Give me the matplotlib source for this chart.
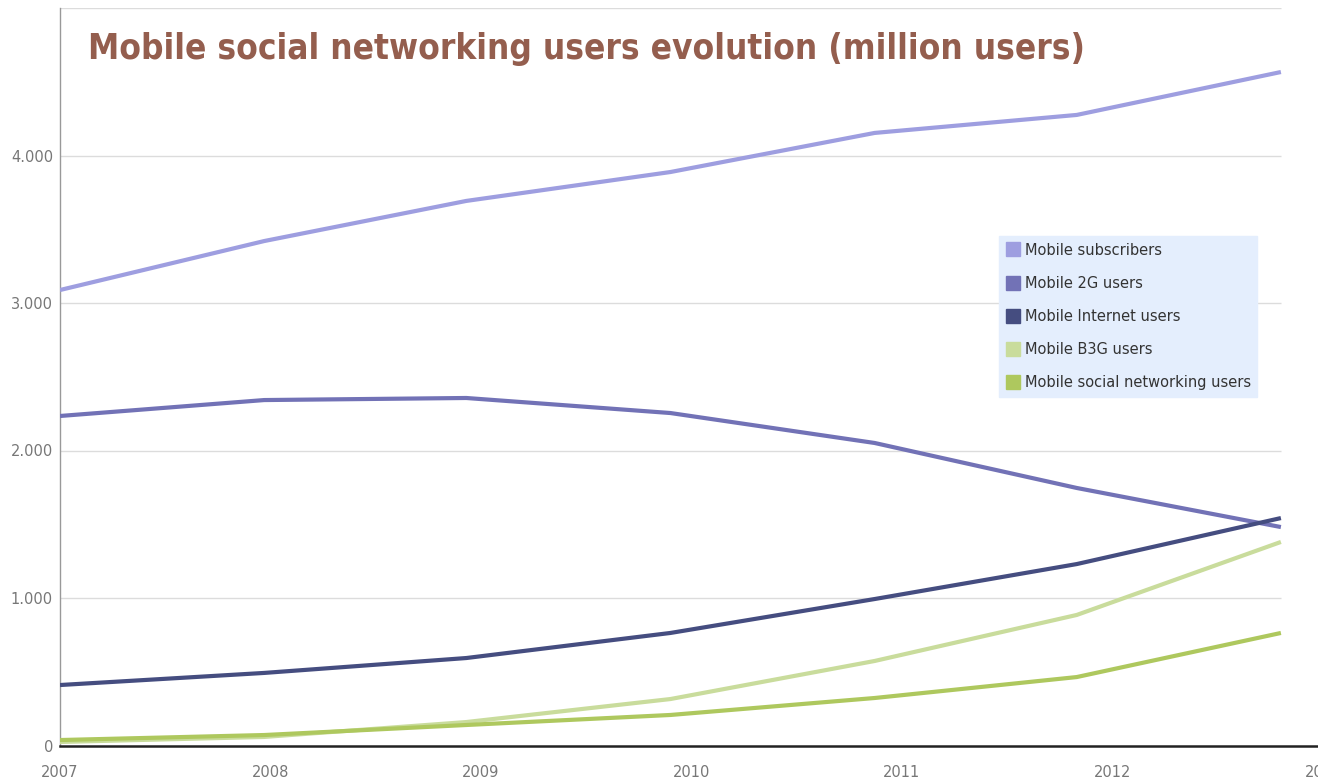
import matplotlib
matplotlib.use("Agg")
import matplotlib.pyplot as plt
from matplotlib.lines import Line2D
from matplotlib import font_manager

# ---- data ----
years = [2007.0, 2007.97, 2008.93, 2009.9, 2010.87, 2011.83, 2012.8]
subscribers = [3088, 3420, 3692, 3888, 4153, 4275, 4566]
users_2g = [2234, 2342, 2356, 2254, 2051, 1746, 1481]
internet = [410, 492, 593, 763, 993, 1230, 1542]
b3g = [24, 58, 159, 315, 573, 885, 1380]
social = [37, 71, 139, 207, 322, 464, 763]

series_names = ["Mobile subscribers", "Mobile 2G users", "Mobile Internet users",
                "Mobile B3G users", "Mobile social networking users"]
series_values = [subscribers, users_2g, internet, b3g, social]
colors = ["#9e9ee0", "#7272b6", "#454d80", "#c9dc9c", "#aec85e"]

xtick_years = [2007, 2008, 2009, 2010, 2011, 2012, 2013]
ytick_vals = [0, 1000, 2000, 3000, 4000]
ytick_labels = ["0", "1.000", "2.000", "3.000", "4.000"]
title = "Mobile social networking users evolution (million users)"

W, H = 1318, 780
fig = plt.figure(figsize=(W / 100, H / 100), dpi=100)
ax = fig.add_axes([60 / W, 34.5 / H, (1323 - 60) / W, (745.5 - 8) / H])
ax.set_xlim(2007, 2013)
ax.set_ylim(0, 5000)

for g in [1000, 2000, 3000, 4000, 5000]:
    ax.plot([years[0], years[-1]], [g, g], color="#dcdcdc", lw=1.0, zorder=1,
            solid_capstyle="butt")

for name, vals, c in zip(series_names, series_values, colors):
    ax.plot(years, vals, color=c, lw=3.0, zorder=3, solid_capstyle="butt",
            solid_joinstyle="round")

for s in ["top", "right"]:
    ax.spines[s].set_visible(False)
ax.spines["left"].set_color("#999999")
ax.spines["left"].set_linewidth(1.0)
ax.spines["bottom"].set_color("#222222")
ax.spines["bottom"].set_linewidth(1.8)

ax.set_xticks(xtick_years)
ax.set_xticklabels([str(y) for y in xtick_years])
ax.set_yticks(ytick_vals)
ax.set_yticklabels(ytick_labels)
ax.tick_params(axis="both", length=0, colors="#777777", labelsize=10.5)
ax.tick_params(axis="x", pad=14)
ax.tick_params(axis="y", pad=5)
for lab in ax.get_yticklabels():
    lab.set_verticalalignment("center_baseline")

# title font: prefer a condensed bold face if installed
tprops = font_manager.FontProperties(family="DejaVu Sans", weight="bold")
for f in font_manager.fontManager.ttflist:
    n = f.fname.lower()
    if ("condensed" in n or "narrow" in n) and "bold" in n and "oblique" not in n \
            and "italic" not in n and "semi" not in n and "extra" not in n:
        tprops = font_manager.FontProperties(fname=f.fname)
        break
t = fig.text(88 / W, 1 - 49 / H, title, fontproperties=tprops,
             color="#945e4e", ha="left", va="center")
t.set_fontsize(22)
fig.canvas.draw()
bb = t.get_window_extent()
t.set_fontsize(22 * 992 / bb.width)

# legend
handles = [Line2D([], [], marker="s", ls="none", markersize=10, color=c,
                  markeredgecolor=c) for c in colors]
leg = ax.legend(handles, series_names, loc="upper left",
                bbox_to_anchor=((999 - 60) / (1323 - 60), (745.5 - 236) / (745.5 - 8)),
                frameon=True, fancybox=False, facecolor="#e4eefd", edgecolor="#e4eefd",
                framealpha=1, fontsize=10.5, labelspacing=1.25, handletextpad=0.3,
                handlelength=1.0, borderpad=0.45, borderaxespad=0)
for txt in leg.get_texts():
    txt.set_color("#333333")
leg.set_zorder(5)

fig.savefig("out.png", dpi=100)
